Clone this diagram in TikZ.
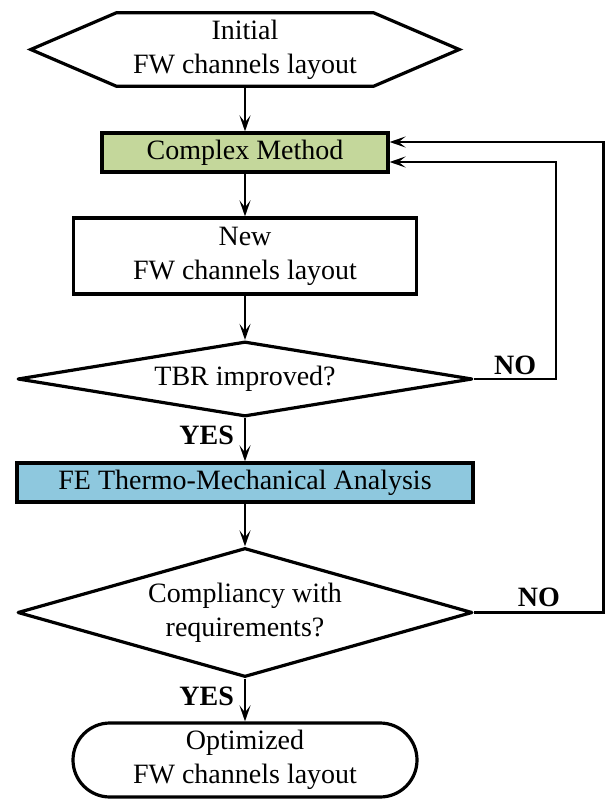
\documentclass[tikz,border=0pt]{standalone}
\usepackage{fontspec}
\setmainfont{Liberation Serif}
\usetikzlibrary{shapes.geometric,arrows.meta,calc}
\definecolor{boxgreen}{HTML}{C4D79B}
\definecolor{boxblue}{HTML}{8EC8DE}
\begin{document}
\begin{tikzpicture}[x=1pt,y=1pt,
  txt/.style={font=\fontsize{28}{34}\selectfont, align=center, inner sep=0pt},
  shp/.style={txt, draw, line width=3.2pt},
  dia/.style={shp, diamond, line join=round},
  conn/.style={line width=2.2pt, -{Stealth[length=16pt,width=11pt,inset=7pt]}},
  lbl/.style={font=\bfseries\fontsize{28}{34}\selectfont, inner sep=0pt}]
\useasboundingbox (0,0) rectangle (606,-799);

% nodes
\node[txt, minimum width=257pt, minimum height=73pt] (init) at (245,-49.5) {Initial\\FW channels layout};
\draw[line width=3.2pt, line join=miter] (init.north west) -- (init.north east) -- ($(init.east)+(85.5,0)$) -- (init.south east) -- (init.south west) -- ($(init.west)+(-85.5,0)$) -- cycle;

\node[shp, fill=boxgreen, minimum width=286pt, minimum height=39pt] (complex) at (245,-152.5) {Complex Method};
\node[shp, minimum width=343pt, minimum height=76pt] (new) at (245,-256) {New\\FW channels layout};
\node[dia, aspect=6.07, minimum width=455pt, minimum height=75pt] (tbr) at (245,-379) {TBR improved?};
\node[shp, fill=boxblue, minimum width=456pt, minimum height=39pt] (fe) at (245,-482.5) {FE Thermo-Mechanical Analysis};
\node[dia, aspect=3.53, minimum width=455pt, minimum height=129pt] (comp) at (245,-612.5) {Compliancy with\\requirements?};
\node[shp, rounded corners=37pt, minimum width=344pt, minimum height=74pt] (opt) at (245,-760) {Optimized\\FW channels layout};

% coordinates for feedback loops
\coordinate (in1) at ($(complex.east)+(0,-9.5)$);
\coordinate (in2) at ($(complex.east)+(0,10.5)$);
\coordinate (r1) at (556,0);
\coordinate (r2) at (603.5,0);

% connectors
\draw[conn] (init.south) -- (complex.north);
\draw[conn] (complex.south) -- (new.north);
\draw[conn] (new.south) -- (tbr.north);
\draw[conn] (tbr.south) -- node[lbl, pos=0.4, left=10pt] {YES} (fe.north);
\draw[conn] (fe.south) -- (comp.north);
\draw[conn] (comp.south) -- node[lbl, pos=0.42, left=10pt] {YES} (opt.north);

\draw[conn] (tbr.east) -- node[lbl, above=3pt] {NO} (r1 |- tbr.east) -- (r1 |- in1) -- (in1);
\draw[conn] (comp.east) -- node[lbl, above=5pt] {NO} (r2 |- comp.east) -- (r2 |- in2) -- (in2);
\end{tikzpicture}
\end{document}
